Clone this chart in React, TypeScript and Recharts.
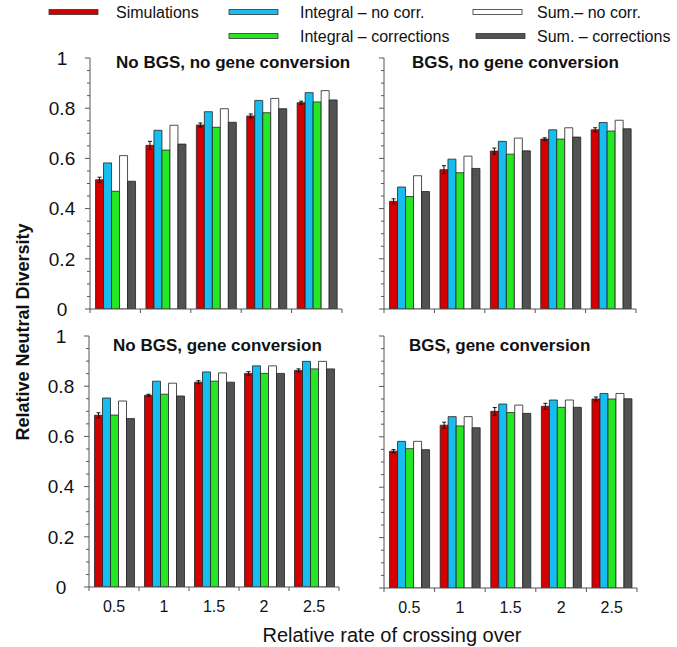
import React from 'react';
import { BarChart, Bar, XAxis, YAxis, ErrorBar } from 'recharts';

const FONT = '"Liberation Sans", Arial, sans-serif';

const crossingRates = ['0.5', '1', '1.5', '2', '2.5'];
const seriesNames = ['Simulations', 'Integral – no corr.', 'Integral – corrections', 'Sum.– no corr.', 'Sum. – corrections'];
const seriesColors = ['#D40000', '#18BDF0', '#25E825', '#FFFFFF', '#525252'];
const yTicks = [0, 0.05, 0.1, 0.15, 0.2, 0.25, 0.3, 0.35, 0.4, 0.45, 0.5, 0.55, 0.6, 0.65, 0.7, 0.75, 0.8, 0.85, 0.9, 0.95, 1];

// rows follow seriesNames order
const noBgsNoGc = [
  [0.515, 0.652, 0.733, 0.769, 0.822],
  [0.582, 0.712, 0.786, 0.831, 0.862],
  [0.469, 0.633, 0.724, 0.782, 0.825],
  [0.611, 0.732, 0.798, 0.839, 0.870],
  [0.509, 0.657, 0.744, 0.798, 0.833],
];
const noBgsNoGcErr = [0.010, 0.016, 0.008, 0.008, 0.006];

const bgsNoGc = [
  [0.429, 0.555, 0.629, 0.677, 0.714],
  [0.486, 0.597, 0.668, 0.714, 0.743],
  [0.448, 0.543, 0.617, 0.677, 0.709],
  [0.531, 0.609, 0.681, 0.722, 0.752],
  [0.468, 0.560, 0.630, 0.685, 0.718],
];
const bgsNoGcErr = [0.010, 0.016, 0.012, 0.005, 0.008];

const noBgsGc = [
  [0.684, 0.764, 0.816, 0.851, 0.863],
  [0.753, 0.820, 0.857, 0.881, 0.899],
  [0.685, 0.768, 0.820, 0.851, 0.869],
  [0.741, 0.812, 0.853, 0.881, 0.899],
  [0.671, 0.761, 0.816, 0.851, 0.869],
];
const noBgsGcErr = [0.010, 0.004, 0.006, 0.007, 0.006];

const bgsGc = [
  [0.543, 0.646, 0.701, 0.721, 0.750],
  [0.582, 0.680, 0.730, 0.746, 0.772],
  [0.553, 0.643, 0.696, 0.717, 0.750],
  [0.582, 0.680, 0.726, 0.746, 0.772],
  [0.549, 0.636, 0.693, 0.717, 0.751],
];
const bgsGcErr = [0.006, 0.012, 0.015, 0.012, 0.008];

const AXIS = '#555';
const Y_W = 50;
const M = { top: 10, right: 10, bottom: 0, left: 0 };
const X_H = 30;

function buildRows(values: number[][], errors: number[]) {
  return crossingRates.map((rate, i) => {
    const row: any = { rate, err: errors[i] };
    values.forEach((s, k) => { row['s' + k] = s[i]; });
    return row;
  });
}

function Panel({ values, errors, x0, x1, y0, y1, showY, showX }: any) {
  const data = buildRows(values, errors);
  const width = x1 - x0 + Y_W + M.left + M.right;
  const height = y1 - y0 + M.top + M.bottom + X_H;
  const bw = (x1 - x0) / crossingRates.length;

  const yTick = (p: any) => {
    const v = p.payload.value;
    const major = Math.round(v * 100) % 20 === 0;
    return (
      <g>
        <line x1={p.x - (major ? 5 : 3)} x2={p.x} y1={p.y} y2={p.y} stroke={AXIS} strokeWidth={1} />
        {showY && major && (
          <text x={p.x - 28} y={p.y} dy="0.36em" textAnchor="middle" fontSize={19} fill="#111" fontFamily={FONT}>
            {String(Math.round(v * 10) / 10)}
          </text>
        )}
      </g>
    );
  };

  const xTick = (p: any) => {
    const last = p.index === crossingRates.length - 1;
    return (
      <g>
        <line x1={p.x - bw / 2} x2={p.x - bw / 2} y1={p.y} y2={p.y + 4} stroke={AXIS} strokeWidth={1} />
        {last && <line x1={p.x + bw / 2} x2={p.x + bw / 2} y1={p.y} y2={p.y + 4} stroke={AXIS} strokeWidth={1} />}
        {showX && (
          <text x={p.x} y={p.y + 19} dy="0.36em" textAnchor="middle" fontSize={16} fill="#111" fontFamily={FONT}>
            {p.payload.value}
          </text>
        )}
      </g>
    );
  };

  return (
    <div style={{ position: 'absolute', left: x0 - Y_W - M.left, top: y0 - M.top }}>
      <BarChart width={width} height={height} data={data} margin={M} barCategoryGap="11%" barGap={0}>
        <XAxis dataKey="rate" height={X_H} interval={0} tickSize={0} tickMargin={0} tick={xTick}
          axisLine={{ stroke: AXIS }} tickLine={false} />
        <YAxis width={Y_W} domain={[0, 1]} ticks={yTicks} interval={0} tickSize={0} tickMargin={0} tick={yTick}
          axisLine={{ stroke: AXIS }} tickLine={false} allowDataOverflow />
        {values.map((_: number[], k: number) => (
          <Bar key={k} dataKey={'s' + k} name={seriesNames[k]} fill={seriesColors[k]} stroke="#222" strokeWidth={0.8}
            isAnimationActive={false}>
            {k === 0 && <ErrorBar dataKey="err" width={2} stroke="#111" strokeWidth={1} direction="y" />}
          </Bar>
        ))}
      </BarChart>
    </div>
  );
}

const legendItems = [
  { i: 0, sx: 49, tx: 116, y: 12 },
  { i: 1, sx: 229, tx: 300, y: 12 },
  { i: 3, sx: 473, tx: 537, y: 12 },
  { i: 2, sx: 229, tx: 300, y: 36 },
  { i: 4, sx: 476, tx: 537, y: 36 },
];

const titles = [
  { text: 'No BGS, no gene conversion', x: 116, y: 68 },
  { text: 'BGS, no gene conversion', x: 412, y: 68 },
  { text: 'No BGS, gene conversion', x: 113, y: 351 },
  { text: 'BGS, gene conversion', x: 409, y: 351 },
];

export default function App() {
  return (
    <div style={{ position: 'absolute', left: 0, top: 0, width: 677, height: 647, background: '#fff', overflow: 'hidden' }}>
      <Panel values={noBgsNoGc} errors={noBgsNoGcErr} x0={90} x1={342} y0={58} y1={309} showY showX={false} />
      <Panel values={bgsNoGc} errors={bgsNoGcErr} x0={384} x1={636} y0={58} y1={309} showY={false} showX={false} />
      <Panel values={noBgsGc} errors={noBgsGcErr} x0={89} x1={339} y0={336} y1={587} showY showX />
      <Panel values={bgsGc} errors={bgsGcErr} x0={384} x1={637} y0={336} y1={588} showY={false} showX />
      <svg width={677} height={647} style={{ position: 'absolute', left: 0, top: 0, pointerEvents: 'none' }}>
        {legendItems.map((it) => (
          <g key={it.i}>
            <rect x={it.sx} y={it.y - 2.5} width={522 - 473} height={5} fill={seriesColors[it.i]} stroke="#333" strokeWidth={0.8} />
            <text x={it.tx} y={it.y} dy="0.36em" fontSize={16} fill="#111" fontFamily={FONT}>{seriesNames[it.i]}</text>
          </g>
        ))}
        {titles.map((t) => (
          <text key={t.text} x={t.x} y={t.y} fontSize={17} fontWeight="bold" fill="#111" fontFamily={FONT}>{t.text}</text>
        ))}
        <text transform="translate(23,332) rotate(-90)" textAnchor="middle" dy="0.36em" fontSize={18} fontWeight="bold"
          fill="#111" fontFamily={FONT}>Relative Neutral Diversity</text>
        <text x={392} y={635} dy="0.36em" textAnchor="middle" fontSize={20} fill="#111" fontFamily={FONT}>
          Relative rate of crossing over
        </text>
      </svg>
    </div>
  );
}
